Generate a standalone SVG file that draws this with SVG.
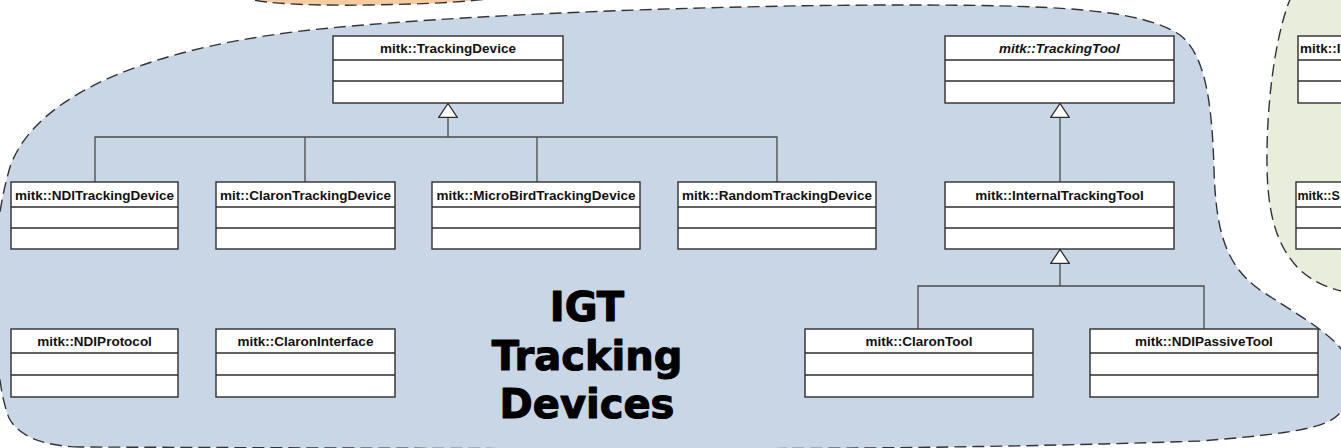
<svg xmlns="http://www.w3.org/2000/svg" width="1341" height="448" viewBox="0 0 1341 448">
  <style>
    .blob { stroke: #333333; stroke-width: 1.4; stroke-dasharray: 12 6; }
    .box { fill: #ffffff; stroke: #2e2e2e; stroke-width: 1.4; }
    .div { stroke: #2e2e2e; stroke-width: 1.4; }
    .name { font-family: "Liberation Sans", Arial, sans-serif; font-weight: bold; font-size: 13.5px; fill: #111111; text-anchor: middle; }
    .abstract { font-style: italic; }
    .left { text-anchor: start; }
    .conn { fill: none; stroke: #4a4a4a; stroke-width: 1.3; }
    .title { font-family: "DejaVu Sans", "Liberation Sans", sans-serif; font-weight: bold; font-size: 40px; fill: #000000; stroke: #000000; stroke-width: 1.1; stroke-linejoin: round; text-anchor: middle; }
  </style>
  <defs>
    <!-- hollow triangle used for generalization -->
    <marker id="gen" viewBox="0 0 15 20" refX="15" refY="10" markerWidth="15" markerHeight="20" markerUnits="userSpaceOnUse" orient="auto">
      <path d="M0.7,0.7 L14.5,10 L0.7,19.3 Z" fill="#ffffff" stroke="#2e2e2e" stroke-width="1.3"/>
    </marker>
  </defs>

  <rect width="1341" height="448" fill="#ffffff"/>

  <!-- package areas -->
  <g id="areas">
    <path class="blob" fill="#f9cba1" d="M238,-5 C250,3 300,6 370,5 C430,4 480,2 512,-5 Z"/>
    <path class="blob" fill="#e9eddc" d="M1292,-5 C1280,20 1268,80 1267,150 C1266,210 1275,245 1300,270 C1315,283 1330,290 1360,295 L1360,-5 Z"/>
    <path class="blob" fill="#c9d6e6" d="M80,447 C40,446 18,435 9,418 C2,400 -2,375 -3,340 L-4,270 C-4,225 2,195 10,167 C35,95 150,45 330,28 C500,12 750,5 900,5 C1050,5 1140,8 1180,35 C1205,55 1212,100 1214,170 C1216,230 1225,265 1260,290 C1290,310 1318,325 1338,345 C1355,365 1352,400 1338,415 C1325,428 1290,434 1200,441 C1000,448 800,449 600,449 L80,447 Z"/>
  </g>

  <!-- generalization connectors -->
  <g id="connectors">
    <path class="conn" d="M95,182 V137 H777 V182 M305,137 V182 M537,137 V182"/>
    <path class="conn" d="M448,137 V103" marker-end="url(#gen)"/>
    <path class="conn" d="M1060,182 V103" marker-end="url(#gen)"/>
    <path class="conn" d="M918,329 V286 H1204 V329"/>
    <path class="conn" d="M1060,286 V249" marker-end="url(#gen)"/>
  </g>

  <g id="TrackingDevice">
    <rect class="box" x="333" y="36" width="230" height="67"/>
    <path class="div" d="M333,60 H563 M333,81 H563"/>
    <text class="name" x="448" y="53">mitk::TrackingDevice</text>
  </g>

  <g id="TrackingTool">
    <rect class="box" x="945" y="36" width="229" height="67"/>
    <path class="div" d="M945,60 H1174 M945,81 H1174"/>
    <text class="name abstract" x="1059.5" y="53">mitk::TrackingTool</text>
  </g>

  <g id="NDITrackingDevice">
    <rect class="box" x="11" y="182" width="167" height="67"/>
    <path class="div" d="M11,207 H178 M11,228 H178"/>
    <text class="name" x="94.5" y="199.5">mitk::NDITrackingDevice</text>
  </g>

  <g id="ClaronTrackingDevice">
    <rect class="box" x="216" y="182" width="179" height="67"/>
    <path class="div" d="M216,207 H395 M216,228 H395"/>
    <text class="name" x="305.5" y="199.5">mit::ClaronTrackingDevice</text>
  </g>

  <g id="MicroBirdTrackingDevice">
    <rect class="box" x="432" y="182" width="208" height="67"/>
    <path class="div" d="M432,207 H640 M432,228 H640"/>
    <text class="name" x="536" y="199.5">mitk::MicroBirdTrackingDevice</text>
  </g>

  <g id="RandomTrackingDevice">
    <rect class="box" x="678" y="182" width="198" height="67"/>
    <path class="div" d="M678,207 H876 M678,228 H876"/>
    <text class="name" x="777" y="199.5">mitk::RandomTrackingDevice</text>
  </g>

  <g id="InternalTrackingTool">
    <rect class="box" x="945" y="182" width="229" height="67"/>
    <path class="div" d="M945,207 H1174 M945,228 H1174"/>
    <text class="name" x="1059.5" y="199.5">mitk::InternalTrackingTool</text>
  </g>

  <g id="NDIProtocol">
    <rect class="box" x="11" y="329" width="167" height="68"/>
    <path class="div" d="M11,353 H178 M11,375 H178"/>
    <text class="name" x="94.5" y="346">mitk::NDIProtocol</text>
  </g>

  <g id="ClaronInterface">
    <rect class="box" x="216" y="329" width="179" height="68"/>
    <path class="div" d="M216,353 H395 M216,375 H395"/>
    <text class="name" x="305.5" y="346">mitk::ClaronInterface</text>
  </g>

  <g id="ClaronTool">
    <rect class="box" x="805" y="329" width="228" height="68"/>
    <path class="div" d="M805,353 H1033 M805,375 H1033"/>
    <text class="name" x="919" y="346">mitk::ClaronTool</text>
  </g>

  <g id="NDIPassiveTool">
    <rect class="box" x="1090" y="329" width="228" height="68"/>
    <path class="div" d="M1090,353 H1318 M1090,375 H1318"/>
    <text class="name" x="1204" y="346">mitk::NDIPassiveTool</text>
  </g>

  <!-- classes of the neighbouring package, running past the right border -->
  <g id="NeighbourClassTop">
    <rect class="box" x="1298" y="36" width="60" height="67"/>
    <path class="div" d="M1298,60 H1358 M1298,81 H1358"/>
    <text class="name left" x="1300" y="53">mitk::I</text>
  </g>
  <g id="NeighbourClassMid">
    <rect class="box" x="1296" y="182" width="62" height="67"/>
    <path class="div" d="M1296,207 H1358 M1296,228 H1358"/>
    <text class="name left" x="1297.5" y="199.5" style="font-size:12.5px">mitk::S</text>
  </g>

  <g id="packageTitle">
    <text class="title" x="587" y="321">IGT</text>
    <text class="title" x="587" y="370">Tracking</text>
    <text class="title" x="587" y="418">Devices</text>
  </g>
</svg>
